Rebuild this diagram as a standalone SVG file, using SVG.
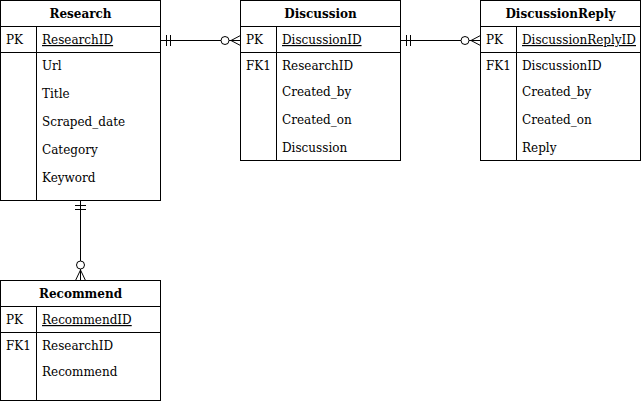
<svg xmlns="http://www.w3.org/2000/svg" width="641" height="404" viewBox="0 0 641 404">
<style>
.box{fill:#fff;stroke:#000;stroke-width:1}
.ln{stroke:#000;stroke-width:1;fill:none}
text{font-family:"DejaVu Serif",serif;font-size:12px;fill:#000}
.t{font-weight:bold;text-anchor:middle}
.pk{text-decoration:underline}
.c{fill:#fff;stroke:#000;stroke-width:1}
</style>
<rect width="641" height="404" fill="#fff"/>
<g id="connectors">
  <path class="ln" d="M160.5 40.5H240.5M166.5 35V46M170.5 35V46M231 40.5L240.5 35.5M231 40.5L240.5 45.5"/>
  <circle class="c" cx="225" cy="40.5" r="4"/>
  <path class="ln" d="M400.5 40.5H480.5M406.5 35V46M410.5 35V46M471 40.5L480.5 35.5M471 40.5L480.5 45.5"/>
  <circle class="c" cx="465" cy="40.5" r="4"/>
  <path class="ln" d="M80.5 200.5V280.5M75 205.5H86M75 209.5H86M80.5 270L75.5 280.5M80.5 270L85.5 280.5"/>
  <circle class="c" cx="80.5" cy="265" r="4"/>
</g>
<g id="Research">
  <rect class="box" x="0.5" y="0.5" width="160" height="200"/>
  <path class="ln" d="M0.5 26.5H160.5M0.5 52.5H160.5M36.5 26.5V200.5"/>
  <text class="t" x="80.5" y="18">Research</text>
  <text x="6" y="44">PK</text>
  <text class="pk" x="42" y="44">ResearchID</text>
  <text x="42" y="70">Url</text>
  <text x="42" y="98">Title</text>
  <text x="42" y="126">Scraped_date</text>
  <text x="42" y="154">Category</text>
  <text x="42" y="182">Keyword</text>
</g>
<g id="Discussion">
  <rect class="box" x="240.5" y="0.5" width="160" height="160"/>
  <path class="ln" d="M240.5 26.5H400.5M240.5 52.5H400.5M276.5 26.5V160.5"/>
  <text class="t" x="320.5" y="18">Discussion</text>
  <text x="246" y="44">PK</text>
  <text class="pk" x="282" y="44">DiscussionID</text>
  <text x="246" y="70">FK1</text>
  <text x="282" y="70">ResearchID</text>
  <text x="282" y="96">Created_by</text>
  <text x="282" y="124">Created_on</text>
  <text x="282" y="152">Discussion</text>
</g>
<g id="DiscussionReply">
  <rect class="box" x="480.5" y="0.5" width="160" height="160"/>
  <path class="ln" d="M480.5 26.5H640.5M480.5 52.5H640.5M516.5 26.5V160.5"/>
  <text class="t" x="560.5" y="18">DiscussionReply</text>
  <text x="486" y="44">PK</text>
  <text class="pk" x="522" y="44">DiscussionReplyID</text>
  <text x="486" y="70">FK1</text>
  <text x="522" y="70">DiscussionID</text>
  <text x="522" y="96">Created_by</text>
  <text x="522" y="124">Created_on</text>
  <text x="522" y="152">Reply</text>
</g>
<g id="Recommend">
  <rect class="box" x="0.5" y="280.5" width="160" height="120"/>
  <path class="ln" d="M0.5 306.5H160.5M0.5 332.5H160.5M36.5 306.5V400.5"/>
  <text class="t" x="80.5" y="298">Recommend</text>
  <text x="6" y="324">PK</text>
  <text class="pk" x="42" y="324">RecommendID</text>
  <text x="6" y="350">FK1</text>
  <text x="42" y="350">ResearchID</text>
  <text x="42" y="376">Recommend</text>
</g>
</svg>
